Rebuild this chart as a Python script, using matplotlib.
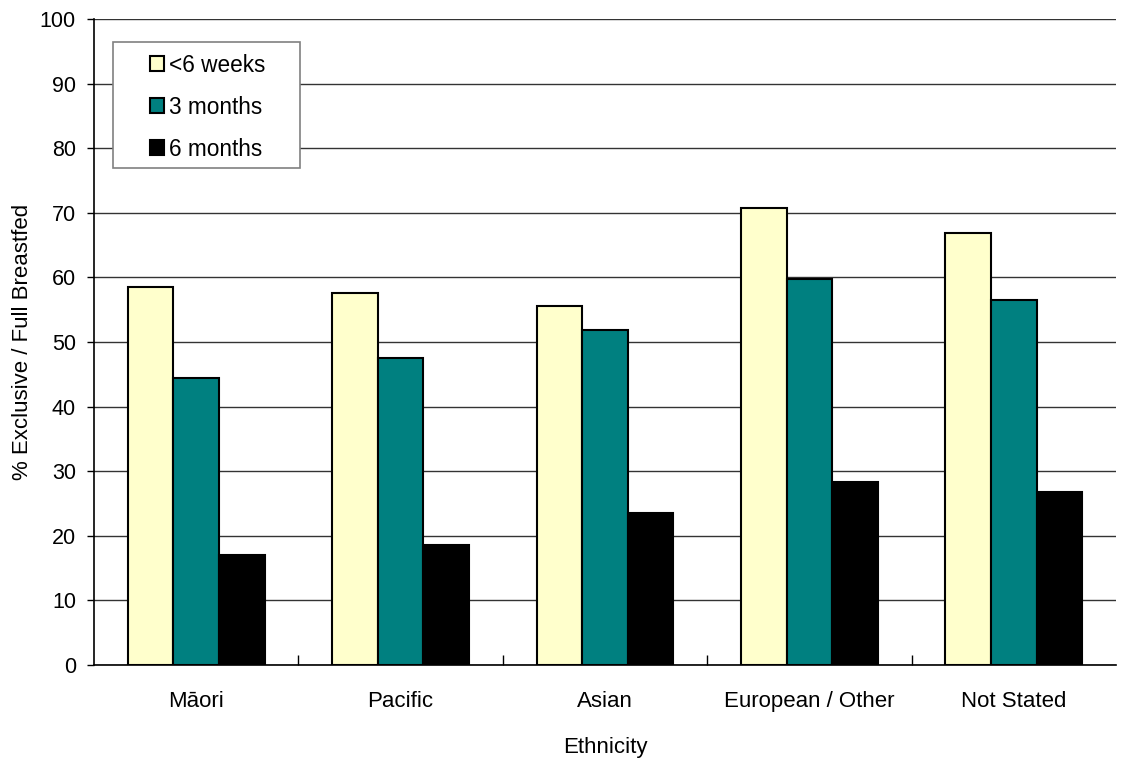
import matplotlib
matplotlib.use("Agg")
import matplotlib.pyplot as plt
from matplotlib.patches import Rectangle
import numpy as np

plt.rcParams['font.family'] = ['Liberation Sans', 'DejaVu Sans']

categories = ["Māori", "Pacific", "Asian", "European / Other", "Not Stated"]
series_names = ["<6 weeks", "3 months", "6 months"]
under_6_weeks = [58.5, 57.6, 55.6, 70.8, 66.8]
three_months = [44.5, 47.5, 51.9, 59.7, 56.5]
six_months = [17.0, 18.5, 23.6, 28.3, 26.8]
colors = ["#FFFFCC", "#008080", "#000000"]
y_ticks = list(range(0, 101, 10))

fig = plt.figure(figsize=(11.22, 7.6), dpi=100)
ax = fig.add_axes([0.0838, 0.125, 0.9109, 0.85])

x = np.arange(len(categories))
width = 0.223
for i, (vals, name, c) in enumerate(zip([under_6_weeks, three_months, six_months], series_names, colors)):
    ax.bar(x + (i - 1) * width, vals, width, color=c, edgecolor="black",
           linewidth=1.5, label=name, zorder=3)

ax.set_xlim(-0.5, len(categories) - 0.5)
ax.set_ylim(0, 100)
ax.set_yticks(y_ticks)
ax.yaxis.grid(True, color="#333333", linewidth=1.0, zorder=0)
ax.set_axisbelow(True)

ax.set_xticks(x)
ax.set_xticklabels(categories, fontsize=16)
ax.tick_params(axis="x", length=0, pad=18.5)
ax.set_xticks(np.arange(0.5, len(categories) - 0.5, 1), minor=True)
ax.tick_params(axis="x", which="minor", direction="in", length=7, width=1, color="black")
ax.tick_params(axis="y", labelsize=15.5, length=5, width=1, direction="out", pad=8)

for s in ["top", "right"]:
    ax.spines[s].set_visible(False)
for s in ["left", "bottom"]:
    ax.spines[s].set_color("black")
    ax.spines[s].set_linewidth(1.2)

ax.set_xlabel("Ethnicity", fontsize=16, labelpad=18)
ax.set_ylabel("% Exclusive / Full Breastfed", fontsize=16, labelpad=5)

# legend box drawn separately so its padding can differ horizontally and vertically
ax.add_patch(Rectangle((0.0186, 0.769), 0.183, 0.1955, transform=ax.transAxes,
                       facecolor="white", edgecolor="#808080", linewidth=1.2,
                       zorder=4, clip_on=False))
leg = ax.legend(loc="upper left", bbox_to_anchor=(0.0548, 0.9465), fontsize=16.3,
                frameon=False, handlelength=0.62, handleheight=0.62,
                handletextpad=0.22, labelspacing=0.84, borderpad=0,
                borderaxespad=0)
leg.set_zorder(5)

fig.savefig("out.png", dpi=100)
